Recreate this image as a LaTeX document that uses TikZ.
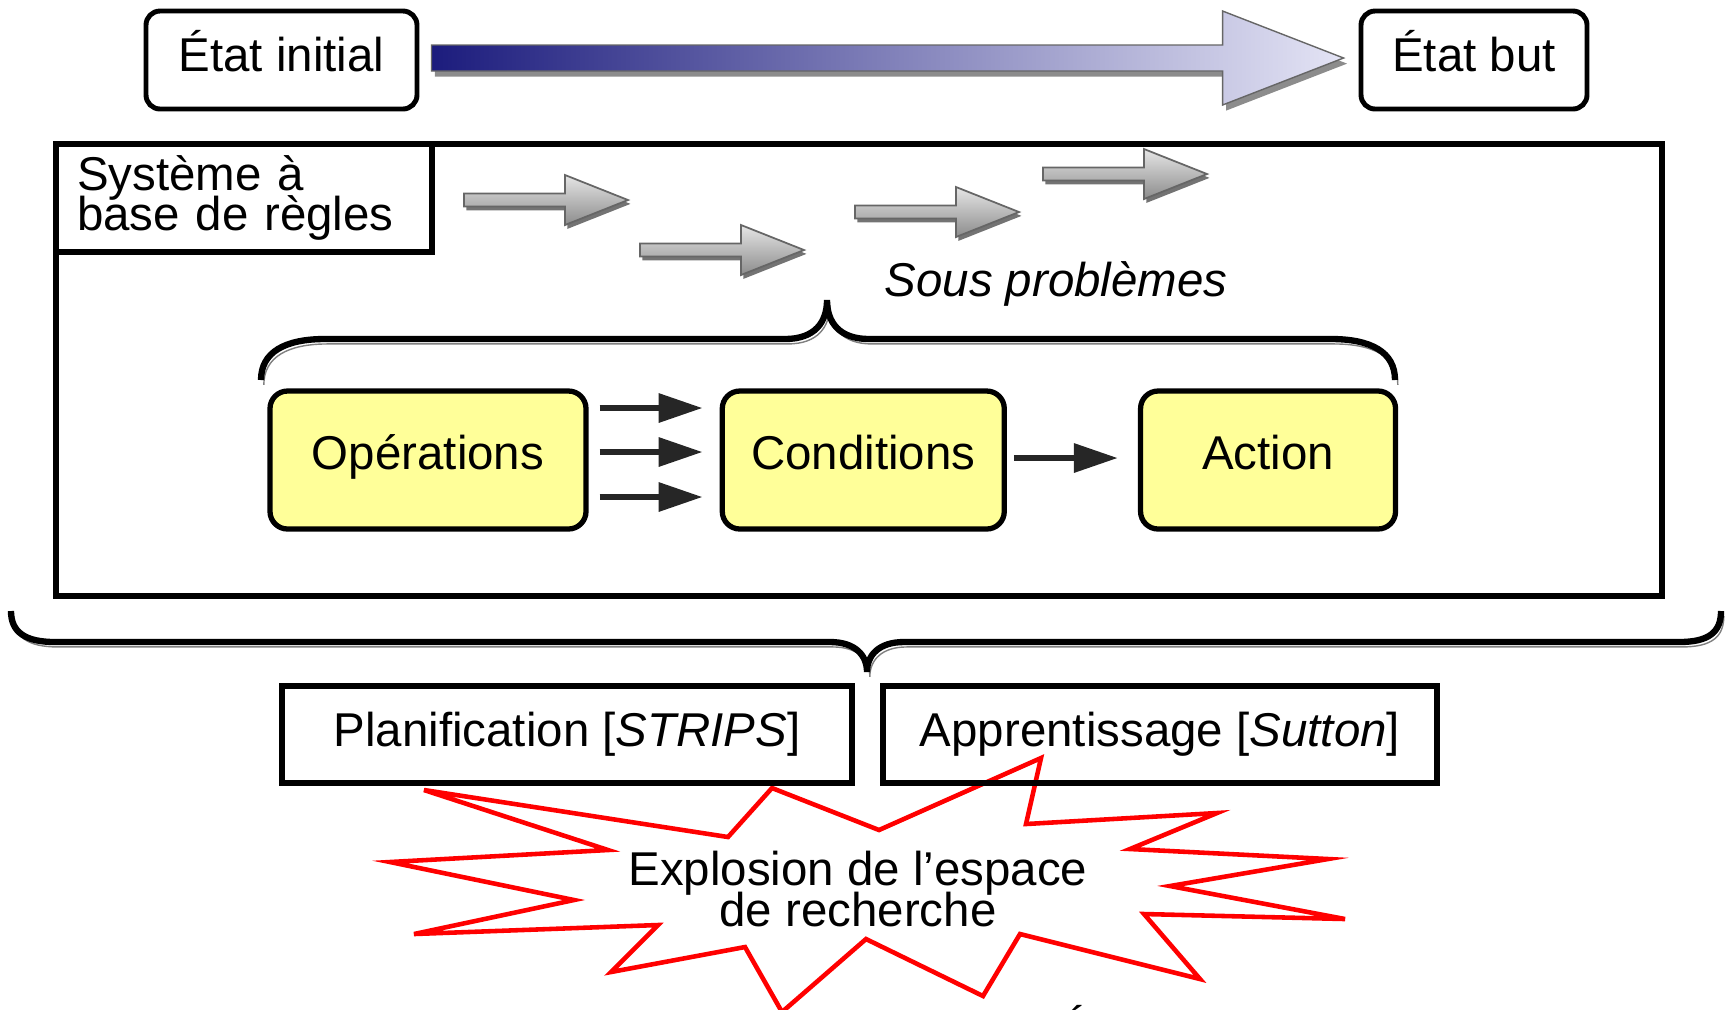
\documentclass[tikz,border=0pt]{standalone}
\usepackage{fontspec}
\setmainfont{Liberation Sans}
\usetikzlibrary{arrows.meta, positioning, calc}
\definecolor{cJaune}{RGB}{255,255,153}
\definecolor{cMarine}{RGB}{28,28,125}
\definecolor{cLavande}{RGB}{228,228,245}
\definecolor{cRouge}{RGB}{255,0,0}
\newcommand{\policeschema}{\fontsize{13.5}{11.6}\selectfont\lineskiplimit=-20pt\relax}
\tikzset{
    etat/.style    ={rectangle, rounded corners=4pt, minimum height=0.98cm, text height=0.78em, text depth=0.15em, text centered, draw=black, line width=1.4pt},
    cadre/.style   ={rectangle, minimum width=16.06cm, minimum height=4.52cm, draw=black, line width=1.5pt},
    regle/.style   ={rectangle, text width=3.34cm, minimum height=1.08cm, align=left, inner xsep=0.21cm, inner ysep=0.08cm, draw=black, line width=1.5pt},
    phase/.style   ={rectangle, rounded corners=5pt, minimum height=1.38cm, text height=0.74em, text depth=0.2em, text centered, draw=black, fill=cJaune, line width=1.5pt},
    methode/.style ={rectangle, minimum height=0.97cm, text centered, draw=black, line width=1.7pt},
    accolade/.style={line width=1.8pt, preaction={draw=black!50, transform canvas={shift={(0.8pt,-1.4pt)}}}},
    grandefleche/.style={draw=black!60, line width=0.4pt, left color=cMarine, right color=cLavande, preaction={fill=black!45, transform canvas={shift={(1pt,-1.6pt)}}}},
    grisefleche/.style ={draw=black!60, line width=0.5pt, top color=black!10, bottom color=black!45, preaction={fill=black!55, transform canvas={shift={(0.7pt,-1.1pt)}}}},
    noirfleche/.style  ={-{Triangle[length=4.4mm, width=2.8mm]}, line width=1.8pt, draw=black!85},
    eclat/.style   ={draw=cRouge, fill=white, line width=1.3pt},
}
\begin{document}
\begin{tikzpicture}[font=\policeschema, node distance=1.31cm]
\useasboundingbox (0,0) rectangle (17.27,-10.09);
% etats
\node[etat, minimum width=2.71cm] (ini) at (2.815,-0.60) {État initial};
\node[etat, minimum width=2.26cm] (but) at (14.74,-0.60) {État but};
\coordinate (fa) at ([shift={(0.12,0.02)}]ini.east);
\coordinate (fb) at ([shift={(-0.15,0.02)}]but.west);
\draw[grandefleche] ($(fa)+(0,0.13)$) -- ($(fb)+(-1.21,0.13)$) -- ($(fb)+(-1.21,0.47)$) -- (fb)
    -- ($(fb)+(-1.21,-0.47)$) -- ($(fb)+(-1.21,-0.13)$) -- ($(fa)+(0,-0.13)$) -- cycle;
% systeme a base de regles
\node[cadre] (cadre) at (8.59,-3.70) {};
\node[regle, anchor=north west] (sbr) at (cadre.north west) {Système à\\base de règles};
\foreach \x/\y in {4.64/-2.00, 6.40/-2.50, 8.55/-2.12, 10.43/-1.74}
    \draw[grisefleche] (\x,\y+0.065) -- ++(1.01,0) -- ++(0,0.185) -- (\x+1.64,\y)
        -- (\x+1.01,\y-0.25) -- ++(0,0.185) -- (\x,\y-0.065) -- cycle;
\node[anchor=base west, inner sep=0pt] (sp) at (8.84,-2.96) {\itshape Sous problèmes};
\draw[accolade] (2.61,-3.80) .. controls (2.61,-3.52) and (2.85,-3.39) .. (3.25,-3.39) -- (7.85,-3.39)
    .. controls (8.15,-3.39) and (8.27,-3.22) .. (8.27,-3.00)
    .. controls (8.27,-3.22) and (8.39,-3.39) .. (8.69,-3.39) -- (13.31,-3.39)
    .. controls (13.71,-3.39) and (13.95,-3.52) .. (13.95,-3.80);
\node[phase, minimum width=3.16cm] (ops) at (4.28,-4.60) {Opérations};
\node[phase, minimum width=2.82cm, right=of ops] (cond) {Conditions};
\node[phase, minimum width=2.55cm, right=of cond] (act) {Action};
\foreach \d in {0.52,0.08,-0.37}
    \draw[noirfleche, shorten <=1.1mm, shorten >=1.7mm] ([yshift=\d cm]ops.east) -- ([yshift=\d cm]cond.west);
\draw[noirfleche, shorten <=0.7mm, shorten >=2mm] ([yshift=0.02cm]cond.east) -- ([yshift=0.02cm]act.west);
% accolade du bas
\draw[accolade] (0.11,-6.11) .. controls (0.11,-6.32) and (0.25,-6.42) .. (0.55,-6.42) -- (8.30,-6.42)
    .. controls (8.55,-6.42) and (8.67,-6.55) .. (8.67,-6.72)
    .. controls (8.67,-6.55) and (8.79,-6.42) .. (9.04,-6.42) -- (16.79,-6.42)
    .. controls (17.09,-6.42) and (17.21,-6.32) .. (17.21,-6.11);
% explosion
\draw[eclat] (4.24,-7.90) -- (7.28,-8.37) -- (7.72,-7.88) -- (8.79,-8.30) -- (10.41,-7.58) -- (10.26,-8.24)
    -- (12.17,-8.13) -- (11.30,-8.49) -- (13.28,-8.59) -- (11.70,-8.86) -- (13.45,-9.19) -- (11.44,-9.14)
    -- (12.00,-9.79) -- (10.20,-9.34) -- (9.83,-9.96) -- (8.66,-9.39) -- (7.82,-10.12) -- (7.45,-9.47)
    -- (6.11,-9.72) -- (6.58,-9.25) -- (4.14,-9.34) -- (5.74,-9.00) -- (3.90,-8.62) -- (6.08,-8.50) -- cycle;
\node[align=center] (expl) at (8.58,-8.89) {Explosion de l’espace\\de recherche};
\node[methode, minimum width=5.70cm] (pla) at (5.67,-7.345) {Planification [\textit{STRIPS}]};
\node[methode, minimum width=5.54cm, right=0.25cm of pla] (app) {Apprentissage [\textit{Sutton}]};
\node[anchor=base west] (e) at (10.47,-10.46) {É};
\end{tikzpicture}
\end{document}
